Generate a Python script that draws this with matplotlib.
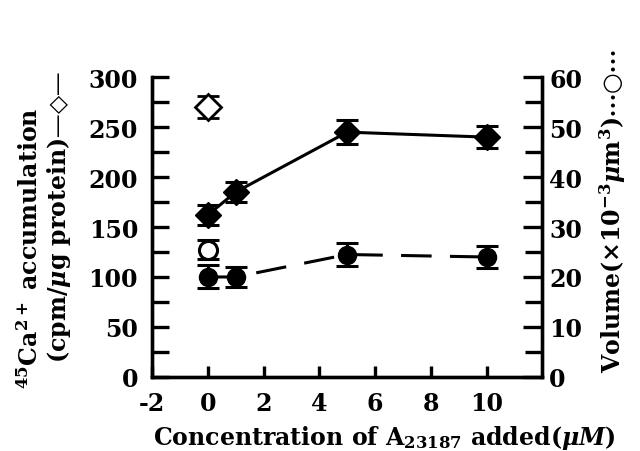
import matplotlib
matplotlib.use("Agg")
import matplotlib.pyplot as plt

# Ca2+ accumulation (left axis), connected with a solid line
conc = [0, 1, 5, 10]
ca_acc = [162, 185, 245, 240]
ca_err = [10, 10, 12, 11]
# open diamond: control value at x=0
ca_ctrl_x = [0]
ca_ctrl = [270]
ca_ctrl_err = [11]

# volume (right axis), connected with a dashed line
vol = [20, 20, 24.5, 24]
vol_err = [2.3, 2.0, 2.3, 2.3]
vol_ctrl_x = [0]
vol_ctrl = [25.5]
vol_ctrl_err = [2.0]

x_ticks = [-2, 0, 2, 4, 6, 8, 10]
left_ticks = [0, 50, 100, 150, 200, 250, 300]
right_ticks = [0, 10, 20, 30, 40, 50, 60]

plt.rcParams['font.family'] = ['DejaVu Serif', 'DejaVu Sans']
plt.rcParams['font.weight'] = 'bold'
plt.rcParams['mathtext.fontset'] = 'dejavuserif'
plt.rcParams['axes.unicode_minus'] = False

fig = plt.figure(figsize=(6.4, 4.52), dpi=100)
ax = fig.add_axes([0.2375, 0.164, 0.61, 0.663])
ax2 = ax.twinx()

ekw = dict(color='black', capsize=8, capthick=2.2, elinewidth=2.2, markersize=13)
ax.errorbar(conc, ca_acc, yerr=ca_err, fmt='D-', lw=2.2, mfc='black', mec='black', **ekw)
ax.errorbar(ca_ctrl_x, ca_ctrl, yerr=ca_ctrl_err, fmt='D', mfc='white', mec='black', mew=2, **ekw)
ax2.errorbar(conc, vol, yerr=vol_err, fmt='o', ls=(0, (10, 6)), lw=2.2, mfc='black', mec='black', **ekw)
ax2.errorbar(vol_ctrl_x, vol_ctrl, yerr=vol_ctrl_err, fmt='o', mfc='white', mec='black', mew=2.2, **ekw)

ax.set_xlim(-2, 12)
ax.set_ylim(0, 300)
ax2.set_ylim(0, 60)
ax.set_xticks(x_ticks)
ax.set_yticks(left_ticks)
ax2.set_yticks(right_ticks)
ax.set_yticks(range(25, 300, 50), minor=True)
ax2.set_yticks(range(5, 60, 10), minor=True)

for a in (ax, ax2):
    for s in a.spines.values():
        s.set_linewidth(2.4)
    a.tick_params(direction='in', width=2.4, labelsize=17)
ax.tick_params(axis='y', length=12, pad=10)
ax.tick_params(axis='y', which='minor', length=12, width=2.4, direction='in')
ax.tick_params(axis='x', length=8, pad=10)
ax2.tick_params(axis='y', length=14, pad=5)
ax2.tick_params(axis='y', which='minor', length=12, width=2.4, direction='in')
ax.spines['top'].set_visible(False)
ax2.spines['top'].set_visible(False)

fig.text(0.047, 0.45, r'$^{45}$Ca$^{2+}$ accumulation', rotation=90,
         ha='center', va='center', fontsize=17, fontweight='bold')
fig.text(0.092, 0.52, '(cpm/$\\mu$g protein)—\u25c7—', rotation=90,
         ha='center', va='center', fontsize=17, fontweight='bold')
fig.text(0.958, 0.175, 'Volume($\\times$10$^{-3}$$\\mu$m$^3$)$\\cdots$\u25cb$\\cdots$', rotation=90,
         ha='center', va='bottom', fontsize=17, fontweight='bold')
fig.text(0.6, 0.03, 'Concentration of A$_{23187}$ added($\\mu M$)',
         ha='center', va='center', fontsize=17, fontweight='bold')

fig.savefig('out.png', dpi=100)
